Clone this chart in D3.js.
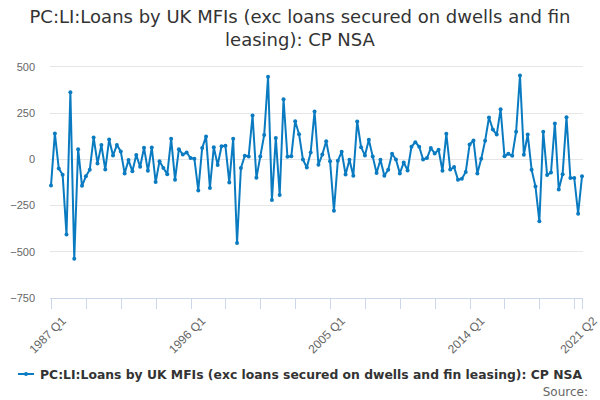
<!DOCTYPE html>
<head>
  <meta charset="utf-8">
  <style>
    body { margin: 0; background: #fff; }
    svg { font-family: "DejaVu Sans", sans-serif; }
    .grid line { stroke: #e6e6e6; }
    .y.axis text { fill: #666; font-size: 11px; }
    .x.axis path, .x.axis line { stroke: #ccd6eb; shape-rendering: crispEdges; }
    .x.axis text { fill: #666; font-size: 12px; }
  </style>
  <script src="https://d3js.org/d3.v7.min.js" charset="utf-8"></script>
</head>
<body>
  <script>

    const titleLines = ['PC:LI:Loans by UK MFIs (exc loans secured on dwells and fin',
                        'leasing): CP NSA'];
    const seriesName = 'PC:LI:Loans by UK MFIs (exc loans secured on dwells and fin leasing): CP NSA';

    // quarterly, 1987 Q1 .. 2021 Q2
    const startYear = 1987;
    const values = [
      -144, 137, -52, -86, -410, 360, -540, 52, -146, -95,
      -59, 115, -25, 74, -58, 104, 18, 74, 40, -79,
      -7, -68, 20, -43, 60, -65, 61, -126, -13, -50,
      -83, 108, -113, 52, 23, 34, 4, 0, -171, 58,
      121, -158, 63, -34, 68, 70, -128, 108, -455, -50,
      16, 13, 234, -103, 13, 128, 443, -223, 113, -196,
      322, 11, 14, 203, 133, -4, -47, 34, 256, -32,
      23, 95, -13, -281, -11, 38, -85, -5, -92, 202,
      63, 18, 103, 13, -77, -5, -92, -59, 27, -4,
      -79, -20, -63, 65, 90, 65, -4, 4, 58, 29,
      49, -65, 135, -58, -45, -113, -108, -72, 77, 99,
      -79, 0, 97, 223, 158, 131, 268, 14, 27, 16,
      146, 450, 22, 131, -59, -150, -338, 146, -88, -74,
      191, -166, -83, 225, -104, -104, -297, -95
    ];
    const quarters = values.map((v, i) => `${startYear + Math.floor(i / 4)} Q${i % 4 + 1}`);

    const yTicks = [-750, -500, -250, 0, 250, 500];
    const xLabels = ['1987 Q1', '1996 Q1', '2005 Q1', '2014 Q1', '2021 Q2'];
    const tickStep = 9;

    const w = 600, h = 400;
    const plotLeft = 51, plotRight = 582, plotTop = 66.3, plotBottom = 297.5;

    const svg = d3.select('body').append('svg')
          .attr('width', w)
          .attr('height', h);

    const xScale = d3.scalePoint()
                    .domain(quarters)
                    .range([plotLeft, plotRight]);

    const yScale = d3.scaleLinear()
                    .domain([-750, 500])
                    .range([plotBottom, plotTop]);

    // title
    svg.append('text')
       .attr('x', w / 2)
       .attr('y', 23)
       .attr('text-anchor', 'middle')
       .attr('font-size', '18px')
       .attr('fill', '#333')
       .selectAll('tspan')
       .data(titleLines)
       .enter()
       .append('tspan')
       .attr('x', w / 2)
       .attr('dy', (d, i) => i ? 23 : 0)
       .text(d => d);

    // y labels
    const yAxis = d3.axisLeft(yScale).tickValues(yTicks).tickSize(0).tickPadding(0);
    svg.append('g')
       .attr('class', 'y axis')
       .attr('transform', `translate(35, 0)`)
       .call(yAxis)
       .call(g => g.select('.domain').remove())
       .selectAll('text').attr('dy', '0.35em');

    // gridlines
    svg.append('g')
       .attr('class', 'grid')
       .selectAll('line')
       .data(yTicks.slice(1))
       .enter()
       .append('line')
       .attr('x1', 50)
       .attr('x2', 583)
       .attr('y1', d => Math.round(yScale(d)) + 0.5)
       .attr('y2', d => Math.round(yScale(d)) + 0.5);

    // x axis
    const tickQuarters = quarters.filter((q, i) => i % tickStep === 0).concat([quarters[quarters.length - 1]]);
    const xAxis = d3.axisBottom(xScale)
                    .tickValues(tickQuarters)
                    .tickSize(10)
                    .tickSizeOuter(0)
                    .tickFormat(d => xLabels.includes(d) ? d : '');
    const xg = svg.append('g')
       .attr('class', 'x axis')
       .attr('transform', `translate(0, ${Math.round(plotBottom) + 0.5})`)
       .call(xAxis);
    xg.select('.domain').attr('d', `M${plotLeft - 1},0H${plotRight + 1}`);
    xg.selectAll('text')
       .attr('text-anchor', 'end')
       .attr('dy', 0)
       .attr('transform', 'translate(6, 14) rotate(-45)');

    // series
    const line = d3.line()
                   .x((d, i) => xScale(quarters[i]))
                   .y(d => yScale(d));

    svg.append('path')
       .datum(values)
       .attr('fill', 'none')
       .attr('stroke', '#0a7bc1')
       .attr('stroke-width', 2)
       .attr('stroke-linejoin', 'round')
       .attr('d', line);

    svg.append('g')
       .selectAll('circle')
       .data(values)
       .enter()
       .append('circle')
       .attr('cx', (d, i) => xScale(quarters[i]))
       .attr('cy', d => yScale(d))
       .attr('r', 2)
       .attr('fill', '#0a7bc1');

    // legend
    const lg = svg.append('g').attr('transform', 'translate(18, 374)');
    lg.append('line')
      .attr('x1', 0).attr('x2', 16)
      .attr('y1', 0).attr('y2', 0)
      .attr('stroke', '#0a7bc1').attr('stroke-width', 2);
    lg.append('circle').attr('cx', 8).attr('cy', 0).attr('r', 2).attr('fill', '#0a7bc1');
    lg.append('text')
      .attr('x', 22)
      .attr('y', 5)
      .attr('font-size', '12.5px')
      .attr('font-weight', 'bold')
      .attr('fill', '#333')
      .attr('textLength', 542)
      .attr('lengthAdjust', 'spacingAndGlyphs')
      .text(seriesName);

    svg.append('text')
       .attr('x', 588)
       .attr('y', 396)
       .attr('text-anchor', 'end')
       .attr('font-size', '12px')
       .attr('fill', '#666')
       .text('Source:');

  </script>
</body>
